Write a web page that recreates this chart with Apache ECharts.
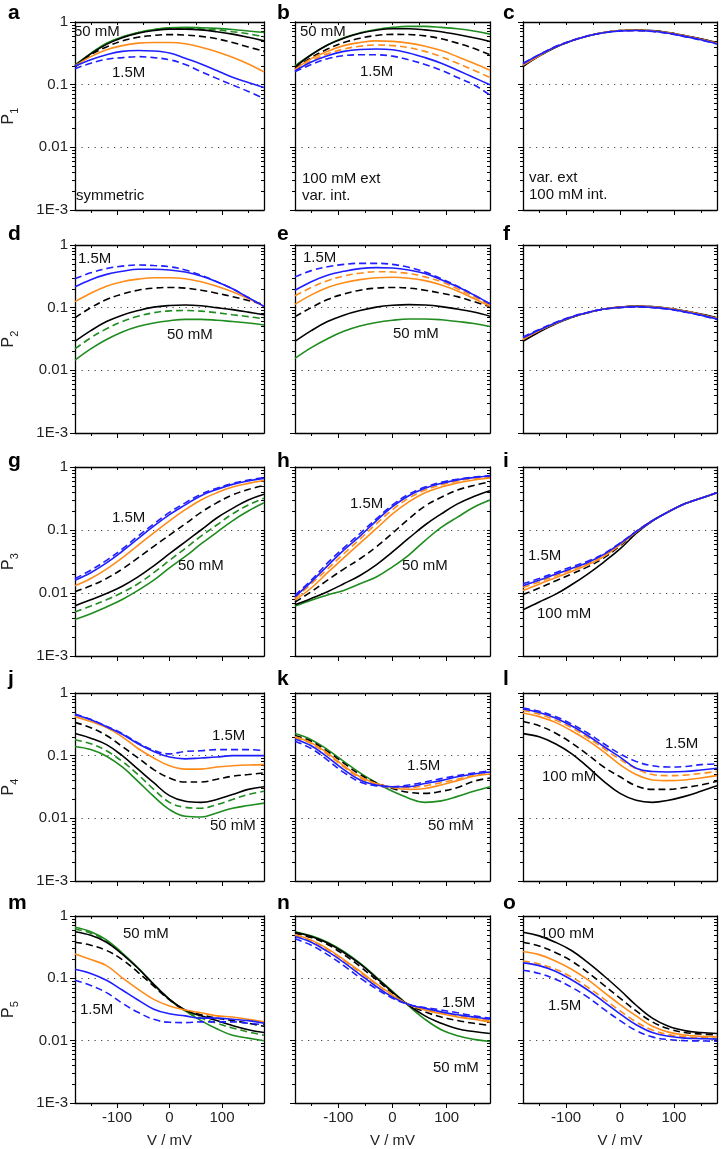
<!DOCTYPE html>
<html><head><meta charset="utf-8">
<script src="https://cdn.jsdelivr.net/npm/echarts@6/dist/echarts.min.js"></script>
<style>html,body{margin:0;padding:0;background:#fff}#c{width:721px;height:1149px}</style>
</head><body><div id="c"></div>
<script>
// ---------------- DATA ----------------
const V = [-180,-150,-120,-90,-60,-30,0,30,60,90,120,150,180];
const xTicksMajor = [-100,0,100];
const xTicksMinor = [-150,-50,50,150];
const xTicksAll = [-150,-100,-50,0,50,100,150];
const yTicksMajor = [0.001,0.01,0.1,1];
const yTickLabels = ['1E-3','0.01','0.1','1'];
const yTicksMinor = [0.002,0.003,0.004,0.005,0.006,0.007,0.008,0.009,
                     0.02,0.03,0.04,0.05,0.06,0.07,0.08,0.09,
                     0.2,0.3,0.4,0.5,0.6,0.7,0.8,0.9];
const yNames = ['1','2','3','4','5'];

// keys: g=green solid, gd=green dashed, k=black solid, kd=black dashed,
//       o=orange solid, od=orange dashed, b=blue solid, bd=blue dashed
const panelA = [
  ['g',  [0.206,0.316,0.457,0.58,0.68,0.76,0.81,0.82,0.81,0.79,0.76,0.72,0.68]],
  ['gd', [0.2,0.31,0.45,0.57,0.67,0.75,0.8,0.8,0.78,0.75,0.7,0.65,0.58]],
  ['k',  [0.2,0.31,0.44,0.56,0.66,0.73,0.77,0.77,0.75,0.7,0.64,0.57,0.5]],
  ['kd', [0.19,0.3,0.4,0.5,0.57,0.61,0.63,0.62,0.59,0.54,0.47,0.4,0.34]],
  ['o',  [0.2,0.28,0.36,0.42,0.46,0.47,0.47,0.45,0.395,0.336,0.273,0.214,0.16]],
  ['b',  [0.198,0.25,0.3,0.34,0.35,0.345,0.32,0.263,0.214,0.168,0.131,0.108,0.09]],
  ['bd', [0.18,0.22,0.255,0.27,0.28,0.27,0.25,0.21,0.162,0.126,0.099,0.078,0.06]]
];
const panelB = [
  ['g',  [0.2,0.3,0.43,0.56,0.67,0.76,0.82,0.85,0.85,0.82,0.78,0.72,0.64]],
  ['k',  [0.19,0.3,0.43,0.55,0.66,0.74,0.78,0.78,0.75,0.7,0.63,0.56,0.49]],
  ['kd', [0.18,0.27,0.37,0.47,0.55,0.61,0.635,0.63,0.6,0.54,0.46,0.38,0.3]],
  ['o',  [0.175,0.26,0.34,0.42,0.47,0.5,0.49,0.46,0.41,0.35,0.28,0.22,0.17]],
  ['od', [0.17,0.24,0.31,0.37,0.41,0.43,0.42,0.39,0.34,0.28,0.22,0.17,0.13]],
  ['b',  [0.165,0.23,0.29,0.34,0.365,0.37,0.36,0.32,0.27,0.22,0.17,0.13,0.1]],
  ['bd', [0.16,0.21,0.26,0.29,0.3,0.3,0.285,0.25,0.21,0.17,0.13,0.1,0.068]]
];
const panelC = [
  ['k',  [0.195,0.285,0.39,0.5,0.6,0.68,0.73,0.745,0.73,0.68,0.61,0.54,0.47]],
  ['kd', [0.2,0.29,0.395,0.5,0.6,0.68,0.73,0.74,0.725,0.675,0.605,0.535,0.465]],
  ['o',  [0.205,0.29,0.4,0.5,0.6,0.68,0.73,0.74,0.72,0.67,0.6,0.53,0.46]],
  ['od', [0.21,0.295,0.4,0.5,0.6,0.68,0.725,0.735,0.715,0.665,0.595,0.525,0.455]],
  ['b',  [0.215,0.3,0.4,0.5,0.6,0.675,0.72,0.73,0.71,0.66,0.59,0.52,0.45]],
  ['bd', [0.22,0.3,0.405,0.505,0.6,0.675,0.72,0.725,0.705,0.655,0.585,0.515,0.445]]
];
const panelD = [
  ['g',  [0.0146,0.022,0.031,0.041,0.05,0.057,0.062,0.065,0.065,0.063,0.06,0.057,0.053]],
  ['gd', [0.022,0.033,0.046,0.06,0.073,0.083,0.089,0.09,0.088,0.083,0.077,0.072,0.066]],
  ['k',  [0.029,0.043,0.06,0.076,0.09,0.102,0.108,0.11,0.107,0.1,0.093,0.085,0.077]],
  ['kd', [0.069,0.1,0.135,0.165,0.19,0.205,0.21,0.205,0.19,0.17,0.15,0.13,0.112]],
  ['o',  [0.125,0.17,0.22,0.26,0.285,0.3,0.3,0.29,0.26,0.22,0.18,0.14,0.105]],
  ['b',  [0.215,0.28,0.34,0.38,0.41,0.41,0.4,0.37,0.32,0.26,0.2,0.145,0.105]],
  ['bd', [0.29,0.36,0.42,0.46,0.48,0.47,0.45,0.4,0.33,0.26,0.2,0.145,0.105]]
];
const panelE = [
  ['g',  [0.0155,0.023,0.032,0.042,0.051,0.058,0.063,0.066,0.066,0.064,0.06,0.056,0.05]],
  ['k',  [0.029,0.043,0.06,0.076,0.09,0.102,0.109,0.112,0.11,0.104,0.095,0.085,0.073]],
  ['kd', [0.072,0.1,0.135,0.165,0.19,0.205,0.21,0.205,0.19,0.17,0.15,0.125,0.104]],
  ['o',  [0.113,0.16,0.21,0.25,0.28,0.3,0.305,0.295,0.27,0.23,0.185,0.14,0.105]],
  ['od', [0.155,0.21,0.27,0.32,0.355,0.375,0.37,0.35,0.31,0.26,0.2,0.15,0.11]],
  ['b',  [0.19,0.26,0.33,0.38,0.42,0.435,0.43,0.4,0.35,0.28,0.215,0.16,0.115]],
  ['bd', [0.31,0.39,0.45,0.49,0.51,0.51,0.49,0.44,0.37,0.29,0.22,0.16,0.115]]
];
const panelF = [
  ['k',  [0.029,0.041,0.055,0.07,0.083,0.095,0.102,0.106,0.104,0.098,0.089,0.079,0.069]],
  ['kd', [0.03,0.042,0.056,0.07,0.083,0.095,0.102,0.105,0.103,0.097,0.088,0.078,0.068]],
  ['o',  [0.031,0.043,0.056,0.071,0.084,0.095,0.102,0.105,0.103,0.097,0.088,0.078,0.068]],
  ['od', [0.032,0.043,0.057,0.071,0.084,0.095,0.101,0.104,0.102,0.096,0.087,0.077,0.067]],
  ['b',  [0.033,0.044,0.057,0.071,0.084,0.095,0.101,0.104,0.101,0.095,0.086,0.076,0.066]],
  ['bd', [0.034,0.045,0.058,0.072,0.084,0.094,0.1,0.103,0.1,0.094,0.085,0.075,0.065]]
];
const panelG = [
  ['g',  [0.0038,0.0047,0.006,0.0079,0.011,0.016,0.025,0.038,0.06,0.092,0.14,0.2,0.27]],
  ['gd', [0.005,0.0062,0.0078,0.0102,0.014,0.021,0.033,0.051,0.08,0.12,0.18,0.25,0.32]],
  ['k',  [0.0063,0.0078,0.0098,0.0128,0.018,0.027,0.042,0.065,0.1,0.155,0.22,0.3,0.37]],
  ['kd', [0.0105,0.013,0.017,0.024,0.036,0.055,0.083,0.125,0.19,0.27,0.36,0.44,0.51]],
  ['o',  [0.013,0.017,0.024,0.036,0.057,0.09,0.14,0.21,0.3,0.39,0.48,0.55,0.61]],
  ['b',  [0.016,0.021,0.03,0.046,0.073,0.115,0.175,0.25,0.35,0.44,0.53,0.6,0.66]],
  ['bd', [0.017,0.023,0.033,0.05,0.08,0.125,0.19,0.27,0.37,0.46,0.55,0.62,0.68]]
];
const panelH = [
  ['g',  [0.0062,0.0077,0.0093,0.011,0.014,0.018,0.026,0.04,0.068,0.11,0.16,0.23,0.3]],
  ['k',  [0.0065,0.0082,0.0105,0.014,0.019,0.028,0.045,0.074,0.12,0.18,0.26,0.34,0.42]],
  ['kd', [0.0072,0.0105,0.016,0.024,0.035,0.054,0.089,0.15,0.24,0.33,0.43,0.51,0.58]],
  ['o',  [0.0077,0.012,0.021,0.036,0.062,0.105,0.18,0.28,0.39,0.48,0.56,0.62,0.67]],
  ['od', [0.0082,0.014,0.024,0.042,0.072,0.125,0.21,0.32,0.43,0.52,0.6,0.66,0.7]],
  ['b',  [0.0087,0.015,0.027,0.048,0.08,0.14,0.235,0.35,0.46,0.55,0.625,0.68,0.72]],
  ['bd', [0.0092,0.016,0.03,0.052,0.088,0.15,0.25,0.37,0.48,0.57,0.64,0.69,0.73]]
];
const panelI = [
  ['k',  [0.0054,0.0072,0.0095,0.0135,0.02,0.031,0.05,0.088,0.138,0.195,0.26,0.32,0.39]],
  ['kd', [0.0095,0.012,0.0155,0.02,0.026,0.036,0.056,0.092,0.14,0.195,0.26,0.32,0.39]],
  ['o',  [0.011,0.0138,0.0175,0.022,0.028,0.038,0.058,0.093,0.14,0.195,0.26,0.32,0.39]],
  ['od', [0.0122,0.015,0.0188,0.0235,0.0295,0.04,0.06,0.094,0.14,0.195,0.26,0.32,0.39]],
  ['b',  [0.013,0.016,0.0198,0.0245,0.0305,0.041,0.061,0.094,0.14,0.195,0.26,0.32,0.39]],
  ['bd', [0.014,0.017,0.021,0.026,0.032,0.042,0.062,0.095,0.14,0.195,0.26,0.32,0.39]]
];
const panelJ = [
  ['g',  [0.14,0.125,0.098,0.066,0.039,0.0224,0.0138,0.0108,0.0105,0.0122,0.0145,0.016,0.0175]],
  ['gd', [0.18,0.155,0.12,0.081,0.05,0.029,0.018,0.015,0.0145,0.0165,0.02,0.024,0.027]],
  ['k',  [0.225,0.19,0.15,0.1,0.061,0.037,0.023,0.0187,0.018,0.02,0.024,0.029,0.032]],
  ['kd', [0.34,0.28,0.21,0.14,0.092,0.06,0.044,0.038,0.038,0.042,0.047,0.05,0.053]],
  ['o',  [0.42,0.35,0.28,0.2,0.13,0.092,0.069,0.061,0.061,0.066,0.069,0.071,0.072]],
  ['b',  [0.45,0.375,0.29,0.22,0.155,0.117,0.095,0.089,0.092,0.095,0.1,0.1,0.1]],
  ['bd', [0.46,0.38,0.295,0.225,0.16,0.122,0.107,0.117,0.12,0.125,0.125,0.125,0.12]]
];
const panelK = [
  ['g',  [0.225,0.18,0.125,0.081,0.053,0.037,0.027,0.021,0.018,0.019,0.0224,0.027,0.032]],
  ['kd', [0.21,0.17,0.117,0.076,0.05,0.037,0.03,0.026,0.025,0.027,0.031,0.039,0.044]],
  ['o',  [0.2,0.16,0.11,0.069,0.046,0.036,0.031,0.029,0.03,0.034,0.04,0.047,0.051]],
  ['od', [0.195,0.155,0.105,0.066,0.044,0.035,0.031,0.031,0.033,0.037,0.042,0.048,0.052]],
  ['b',  [0.185,0.144,0.095,0.06,0.041,0.034,0.032,0.032,0.036,0.04,0.046,0.051,0.055]],
  ['bd', [0.17,0.13,0.085,0.054,0.038,0.033,0.032,0.034,0.038,0.043,0.048,0.053,0.057]]
];
const panelL = [
  ['k',  [0.225,0.2,0.155,0.108,0.066,0.039,0.025,0.0194,0.018,0.0194,0.0224,0.027,0.033]],
  ['kd', [0.35,0.3,0.23,0.16,0.104,0.066,0.046,0.033,0.029,0.029,0.031,0.034,0.039]],
  ['o',  [0.48,0.42,0.34,0.25,0.175,0.115,0.072,0.05,0.041,0.04,0.041,0.044,0.048]],
  ['od', [0.53,0.46,0.37,0.28,0.195,0.13,0.087,0.062,0.05,0.048,0.049,0.052,0.056]],
  ['b',  [0.555,0.49,0.4,0.3,0.21,0.14,0.095,0.063,0.056,0.055,0.056,0.059,0.063]],
  ['bd', [0.575,0.51,0.42,0.32,0.23,0.155,0.107,0.081,0.069,0.066,0.067,0.072,0.074]]
];
const panelM = [
  ['g',  [0.66,0.56,0.415,0.255,0.148,0.08,0.046,0.03,0.021,0.0155,0.0122,0.011,0.01]],
  ['gd', [0.62,0.53,0.4,0.25,0.145,0.08,0.046,0.03,0.023,0.019,0.016,0.0138,0.0122]],
  ['k',  [0.56,0.49,0.38,0.245,0.145,0.08,0.046,0.031,0.025,0.021,0.0175,0.015,0.0135]],
  ['kd', [0.38,0.34,0.28,0.2,0.125,0.075,0.045,0.031,0.026,0.023,0.021,0.019,0.017]],
  ['o',  [0.245,0.2,0.16,0.102,0.067,0.046,0.036,0.031,0.028,0.025,0.024,0.022,0.02]],
  ['b',  [0.14,0.12,0.093,0.065,0.045,0.032,0.027,0.025,0.023,0.023,0.022,0.021,0.019]],
  ['bd', [0.093,0.077,0.059,0.04,0.0285,0.022,0.0197,0.0195,0.02,0.02,0.02,0.019,0.018]]
];
const panelN = [
  ['g',  [0.56,0.48,0.38,0.27,0.175,0.105,0.062,0.036,0.022,0.015,0.012,0.0105,0.0097]],
  ['k',  [0.55,0.47,0.37,0.26,0.17,0.102,0.06,0.037,0.025,0.019,0.0155,0.014,0.013]],
  ['kd', [0.53,0.45,0.35,0.24,0.155,0.095,0.058,0.038,0.029,0.024,0.021,0.019,0.0175]],
  ['o',  [0.5,0.41,0.3,0.2,0.13,0.082,0.054,0.038,0.031,0.027,0.024,0.022,0.02]],
  ['od', [0.49,0.4,0.29,0.195,0.125,0.08,0.053,0.038,0.032,0.028,0.025,0.023,0.021]],
  ['b',  [0.47,0.38,0.27,0.18,0.115,0.074,0.05,0.038,0.033,0.029,0.026,0.024,0.022]],
  ['bd', [0.43,0.34,0.24,0.16,0.102,0.068,0.048,0.038,0.034,0.031,0.028,0.025,0.023]]
];
const panelO = [
  ['k',  [0.55,0.48,0.38,0.28,0.18,0.11,0.065,0.037,0.023,0.017,0.0145,0.0135,0.013]],
  ['kd', [0.38,0.33,0.26,0.19,0.125,0.078,0.048,0.03,0.02,0.0155,0.0135,0.0128,0.0123]],
  ['o',  [0.27,0.24,0.19,0.14,0.095,0.06,0.038,0.025,0.017,0.0137,0.0123,0.0118,0.0115]],
  ['od', [0.19,0.17,0.14,0.105,0.072,0.047,0.03,0.02,0.0148,0.0125,0.0116,0.0112,0.011]],
  ['b',  [0.177,0.16,0.13,0.095,0.065,0.042,0.027,0.018,0.0135,0.0118,0.011,0.0108,0.0106]],
  ['bd', [0.135,0.12,0.097,0.072,0.05,0.032,0.021,0.0145,0.0115,0.0104,0.01,0.0099,0.0098]]
];

const panelLetters = ['a','b','c','d','e','f','g','h','i','j','k','l','m','n','o'];
const panelData = [panelA,panelB,panelC,panelD,panelE,panelF,panelG,panelH,panelI,
                   panelJ,panelK,panelL,panelM,panelN,panelO];

// annotation texts per panel: [panel, text]
const noteTexts = [
  [0,'50 mM'],[0,'1.5M'],[0,'symmetric'],
  [1,'50 mM'],[1,'1.5M'],[1,'100 mM ext'],[1,'var. int.'],
  [2,'var. ext'],[2,'100 mM int.'],
  [3,'1.5M'],[3,'50 mM'],
  [4,'1.5M'],[4,'50 mM'],
  [6,'1.5M'],[6,'50 mM'],
  [7,'1.5M'],[7,'50 mM'],
  [8,'1.5M'],[8,'100 mM'],
  [9,'1.5M'],[9,'50 mM'],
  [10,'1.5M'],[10,'50 mM'],
  [11,'1.5M'],[11,'100 mM'],
  [12,'50 mM'],[12,'1.5M'],
  [13,'1.5M'],[13,'50 mM'],
  [14,'100 mM'],[14,'1.5M']
];

// ---------------- LAYOUT / STYLE ----------------
const notePos = [
  [74,32],[112,73],[76,196],
  [300,32],[360,72],[302,179],[302,196],
  [529,178],[529,195],
  [78,259],[167,335],
  [303,258],[393,334],
  [112,518],[178,566],
  [350,504],[402,566],
  [528,556],[537,614],
  [212,736],[210,826],
  [407,766],[428,826],
  [665,744],[542,777],
  [123,934],[80,1010],
  [442,1003],[433,1068],
  [540,934],[548,1006]
];
const colLeft = [71, 295, 523], colWidth = [193, 195, 194];
const rowTop = [22, 245, 467, 693, 916], rowHeight = [188, 188, 189, 188, 189];
const letterX = [8, 277, 503];
const letterY = [13, 234, 461, 679, 903];
const FONT = '"Liberation Sans", Arial, Helvetica, sans-serif';
const STYLE = {
  g:  ['#1e8c1e','solid'], gd: ['#1e8c1e','dashed'],
  k:  ['#000000','solid'], kd: ['#000000','dashed'],
  o:  ['#ff8c1a','solid'], od: ['#ff8c1a','dashed'],
  b:  ['#1f1fff','solid'], bd: ['#1f1fff','dashed']
};
const AX = '#000';

function yLabel(v){
  const e = Math.round(Math.log10(v));
  return yTickLabels[e + 3];
}

const grids = [], xAxes = [], yAxes = [], series = [], graphics = [];
panelData.forEach((pd, i) => {
  const r = Math.floor(i / 3), c = i % 3;
  const isBottom = r === 4, isLeft = c === 0;
  grids.push({left: colLeft[c], top: rowTop[r], width: colWidth[c], height: rowHeight[r], show: false});
  // x axes
  xAxes.push({gridIndex: i, type: 'value', min: -180, max: 180, position: 'bottom',
    axisLine: {show: true, onZero: false, lineStyle: {color: AX, width: 1.3}},
    axisTick: {show: true, inside: false, length: 5, customValues: xTicksMajor, lineStyle: {color: AX, width: 1}},
    axisLabel: {show: isBottom, customValues: xTicksMajor, margin: 7, fontSize: 15, color: '#222', fontFamily: FONT},
    splitLine: {show: false},
    name: isBottom ? 'V / mV' : '', nameLocation: 'middle', nameGap: 30,
    nameTextStyle: {fontSize: 15, color: '#222', fontFamily: FONT}
  });
  xAxes.push({gridIndex: i, type: 'value', min: -180, max: 180, position: 'bottom',
    axisLine: {show: false, onZero: false},
    axisTick: {show: true, inside: false, length: 3, customValues: xTicksMinor, lineStyle: {color: AX, width: 1}},
    axisLabel: {show: false}, splitLine: {show: false}
  });
  xAxes.push({gridIndex: i, type: 'value', min: -180, max: 180, position: 'top',
    axisLine: {show: true, onZero: false, lineStyle: {color: AX, width: 1.3}},
    axisTick: {show: true, inside: true, length: 3, customValues: xTicksAll, lineStyle: {color: AX, width: 1}},
    axisLabel: {show: false}, splitLine: {show: false}
  });
  // y axes
  yAxes.push({gridIndex: i, type: 'log', logBase: 10, min: 0.001, max: 1, position: 'left',
    axisLine: {show: true, onZero: false, lineStyle: {color: AX, width: 1.3}},
    axisTick: {show: true, inside: false, length: 5, customValues: yTicksMajor, lineStyle: {color: AX, width: 1}},
    axisLabel: {show: isLeft, customValues: yTicksMajor, formatter: yLabel, margin: 7,
                fontSize: 15, color: '#222', fontFamily: FONT},
    splitLine: {show: true, showMinLine: false, showMaxLine: false,
                lineStyle: {color: '#444', width: 1.2, type: [1.2, 5.3]}},
    name: isLeft ? '{p|P}{s|' + yNames[r] + '}' : '', nameLocation: 'middle', nameGap: 55, nameRotate: 90,
    nameTextStyle: {fontFamily: FONT, color: '#222',
      rich: {p: {fontSize: 16, lineHeight: 22, fontFamily: FONT, color: '#222'},
             s: {fontSize: 11, lineHeight: 11, verticalAlign: 'bottom', fontFamily: FONT, color: '#222'}}}
  });
  yAxes.push({gridIndex: i, type: 'log', logBase: 10, min: 0.001, max: 1, position: 'left',
    axisLine: {show: false, onZero: false},
    axisTick: {show: true, inside: false, length: 3, customValues: yTicksMinor, lineStyle: {color: AX, width: 1}},
    axisLabel: {show: false}, splitLine: {show: false}
  });
  yAxes.push({gridIndex: i, type: 'log', logBase: 10, min: 0.001, max: 1, position: 'right',
    axisLine: {show: true, onZero: false, lineStyle: {color: AX, width: 1.3}},
    axisTick: {show: true, inside: true, length: 3, customValues: yTicksMinor.concat(yTicksMajor), lineStyle: {color: AX, width: 1}},
    axisLabel: {show: false}, splitLine: {show: false}
  });
  pd.forEach(([key, vals]) => {
    const st = STYLE[key];
    series.push({type: 'line', name: panelLetters[i] + '-' + key,
      xAxisIndex: 3 * i, yAxisIndex: 3 * i,
      data: V.map((v, k) => [v, vals[k]]),
      smooth: 0.4, showSymbol: false, symbol: 'none', silent: true,
      lineStyle: {color: st[0], width: 1.6, type: st[1] === 'dashed' ? [7, 4] : 'solid'},
      z: 3
    });
  });
  graphics.push({type: 'text', x: letterX[c], y: letterY[r], silent: true,
    style: {text: panelLetters[i], fill: '#000', font: 'bold 21px ' + FONT,
            textAlign: 'left', textVerticalAlign: 'middle', align: 'left', verticalAlign: 'middle'}});
});
noteTexts.forEach(([p, t], j) => {
  graphics.push({type: 'text', x: notePos[j][0], y: notePos[j][1], silent: true, z: 10,
    style: {text: t, fill: '#111', font: '15px ' + FONT,
            textAlign: 'left', textVerticalAlign: 'middle', align: 'left', verticalAlign: 'middle'}});
});

const chart = echarts.init(document.getElementById('c'), null, {renderer: 'canvas'});
chart.setOption({
  animation: false,
  backgroundColor: '#fff',
  grid: grids, xAxis: xAxes, yAxis: yAxes, series: series,
  graphic: {elements: graphics}
});
</script>
</body></html>
